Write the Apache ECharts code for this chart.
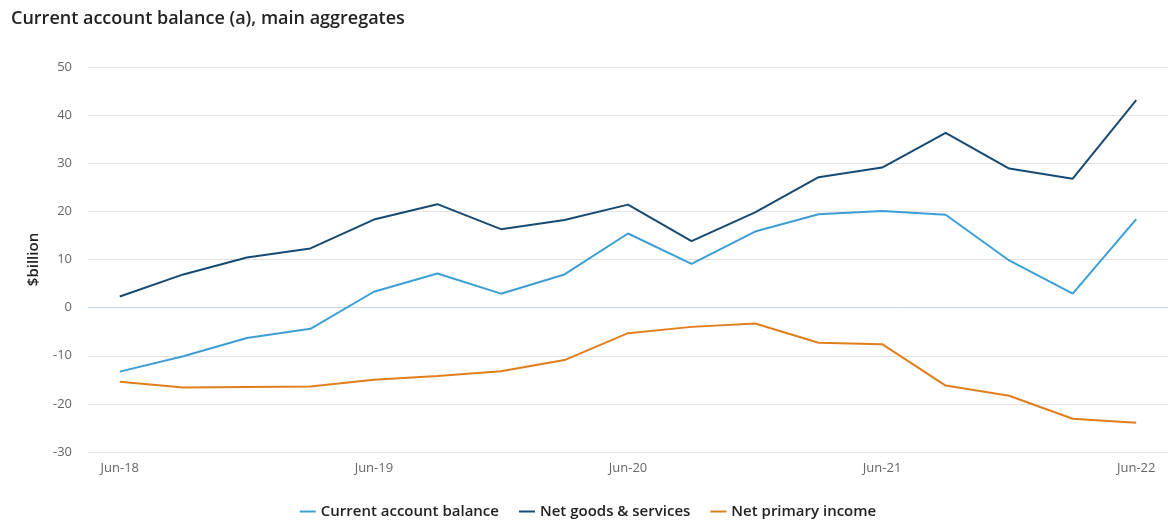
<!DOCTYPE html>
<html>
<head>
<meta charset="utf-8">
<script src="https://cdn.jsdelivr.net/npm/echarts@6/dist/echarts.min.js"></script>
<style>
html,body{margin:0;padding:0;background:#fff;}
#chart{width:1176px;height:528px;}
</style>
</head>
<body>
<div id="chart"></div>
<script>
const categories = ['Jun-18','Sep-18','Dec-18','Mar-19','Jun-19','Sep-19','Dec-19','Mar-20','Jun-20','Sep-20','Dec-20','Mar-21','Jun-21','Sep-21','Dec-21','Mar-22','Jun-22'];
const currentAccount = [-13.3,-10.1,-6.3,-4.4,3.3,7.1,2.9,6.9,15.4,9.1,15.8,19.4,20.1,19.3,9.8,2.9,18.4];
const netGoodsServices = [2.3,6.9,10.4,12.3,18.3,21.5,16.3,18.2,21.4,13.8,19.8,27.1,29.1,36.3,28.9,26.8,43.1];
const netPrimaryIncome = [-15.4,-16.6,-16.5,-16.4,-15.0,-14.2,-13.2,-10.9,-5.3,-4.0,-3.3,-7.3,-7.6,-16.2,-18.3,-23.1,-23.9];
const yTicks = {min:-30, max:50, interval:10};

const font = '"Open Sans", "Noto Sans", sans-serif';
const chart = echarts.init(document.getElementById('chart'));
chart.setOption({
  animation:false,
  textStyle:{fontFamily:font},
  title:{text:'Current account balance (a), main aggregates',left:6,top:5,
    textStyle:{fontSize:18,fontWeight:600,color:'#222',fontFamily:font}},
  grid:{left:88,right:8,top:67,bottom:76},
  legend:{bottom:4,left:'center',itemGap:20,itemWidth:16,itemHeight:2,icon:'rect',
    textStyle:{fontSize:15,fontWeight:600,color:'#222',fontFamily:font},
    data:['Current account balance','Net goods & services','Net primary income']},
  xAxis:{type:'category',data:categories,boundaryGap:true,
    axisLine:{lineStyle:{color:'#c5d5e8'}},axisTick:{show:false},
    axisLabel:{interval:3,color:'#666',fontSize:13,margin:10,fontFamily:font}},
  yAxis:{type:'value',min:yTicks.min,max:yTicks.max,interval:yTicks.interval,
    name:'$billion',nameLocation:'middle',nameGap:47,
    nameTextStyle:{fontSize:15,fontWeight:600,color:'#222',fontFamily:font},
    axisLabel:{color:'#666',fontSize:13,margin:16,fontFamily:font},
    splitLine:{lineStyle:{color:'#e3e3e3'}}},
  series:[
    {name:'Current account balance',type:'line',data:currentAccount,symbol:'none',
      lineStyle:{width:2,color:'#3d9ed6'},itemStyle:{color:'#3d9ed6'}},
    {name:'Net goods & services',type:'line',data:netGoodsServices,symbol:'none',
      lineStyle:{width:2,color:'#174a72'},itemStyle:{color:'#174a72'}},
    {name:'Net primary income',type:'line',data:netPrimaryIncome,symbol:'none',
      lineStyle:{width:2,color:'#e07e1c'},itemStyle:{color:'#e07e1c'}}
  ]
});
</script>
</body>
</html>
